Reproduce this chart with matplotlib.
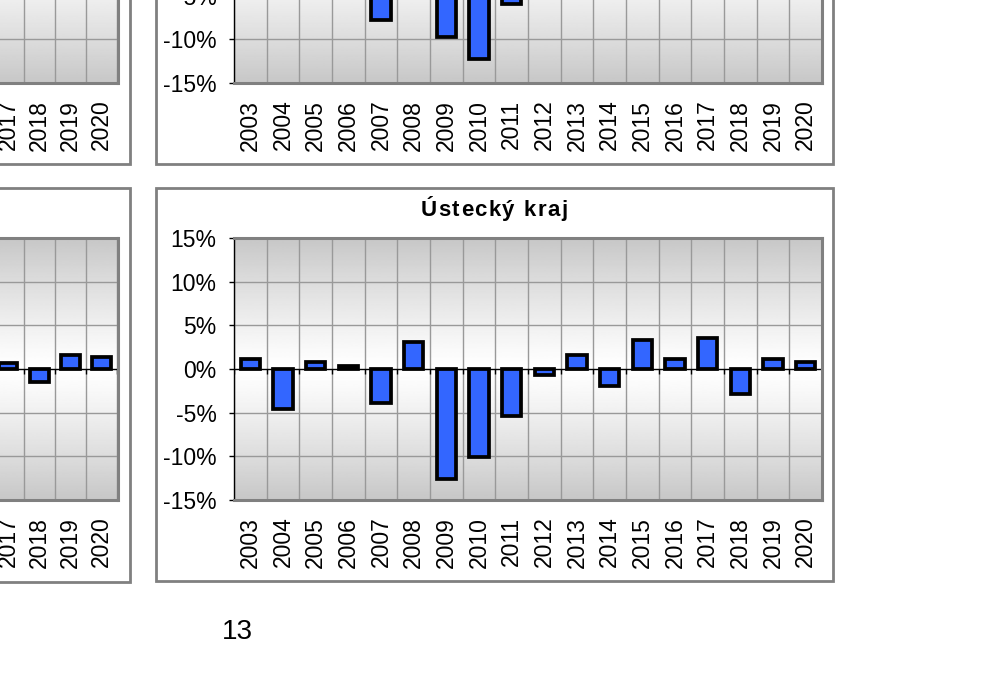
import matplotlib
matplotlib.use('Agg')
import matplotlib.pyplot as plt
import numpy as np
from matplotlib.patches import Rectangle
from matplotlib.font_manager import FontProperties

plt.rcParams['font.family'] = ['Liberation Sans', 'DejaVu Sans']

W, H = 1007, 678
nan = np.nan

years = [str(y) for y in range(2003, 2021)]

# yearly change, % (only what is visible on the cropped page)
ustecky = [1.1, -4.6, 0.8, 0.4, -3.9, 3.1, -12.6, -10.1, -5.4,
           -0.7, 1.6, -1.9, 3.3, 1.1, 3.5, -2.9, 1.1, 0.8]
top_middle = [nan, nan, nan, nan, -7.8, nan, -9.7, -12.2, -6.0,
              nan, nan, nan, nan, nan, nan, nan, nan, nan]
bottom_left = [nan] * 14 + [0.7, -1.5, 1.6, 1.4]
top_left = [nan] * 18

fig = plt.figure(figsize=(W / 100, H / 100), dpi=100)


def px_box(x0, y0, x1, y1):
    return [x0 / W, 1 - y1 / H, (x1 - x0) / W, (y1 - y0) / H]


def draw_chart(frame, plot, values):
    l, b, w, h = px_box(*frame)
    fig.add_artist(Rectangle((l, b), w, h, transform=fig.transFigure,
                             facecolor='white', edgecolor='#808080', lw=2.0, zorder=0))
    ax = fig.add_axes(px_box(*plot))
    n = len(years)
    x = np.arange(n)

    # grey-white-grey background like the Excel plot area
    grad = 1 - 0.22 * np.abs(np.linspace(1, -1, 300)) ** 1.2
    ax.imshow(grad.reshape(-1, 1), extent=(-0.5, n - 0.5, -15, 15), aspect='auto',
              cmap='gray', vmin=0, vmax=1, zorder=0)
    ax.set_xlim(-0.5, n - 0.5)
    ax.set_ylim(-15, 15)

    for bnd in np.arange(n + 1) - 0.5:
        ax.axvline(bnd, color='#999999', lw=1, zorder=1)
    for v in (-10, -5, 5, 10):
        ax.axhline(v, color='#999999', lw=1, zorder=1)
    ax.axhline(0, color='black', lw=1, zorder=2)
    ax.vlines(np.arange(n + 1) - 0.5, -0.6, 0, color='black', lw=1, zorder=2)

    vals = np.array(values, dtype=float)
    ok = ~np.isnan(vals)
    ax.bar(x[ok], vals[ok], width=0.6, color='#3366FF', edgecolor='black',
           lw=2.7, zorder=3)

    ax.set_xticks(x)
    ax.set_xticklabels(years, rotation=90, fontsize=16.5)
    ax.tick_params(axis='x', length=0, pad=12)
    yt = list(range(-15, 16, 5))
    ax.set_yticks(yt)
    ax.set_yticklabels([f'{v}%' for v in yt], fontsize=16.5)
    ax.tick_params(axis='y', direction='out', length=3.6, width=1, pad=9)

    for side in ('top', 'right', 'bottom'):
        ax.spines[side].set_color('#808080')
        ax.spines[side].set_linewidth(2.2)
    ax.spines['left'].set_color('black')
    ax.spines['left'].set_linewidth(1)
    return ax


def spaced_title(text, xc, y_base, size, spacing):
    prop = FontProperties(family='Liberation Sans', weight='bold', size=size)
    r = fig.canvas.get_renderer()
    widths = [r.get_text_width_height_descent(text[:i], prop, ismath=False)[0] if i else 0
              for i in range(len(text) + 1)]
    total = widths[-1] + spacing * (len(text) - 1)
    x0 = xc - total / 2
    for i, ch in enumerate(text):
        fig.text((x0 + widths[i] + i * spacing) / W, 1 - y_base / H, ch,
                 fontproperties=prop, ha='left', va='baseline')


draw_chart((-547, -228, 130, 164), (-446, -179, 117.5, 83), top_left)
draw_chart((156, -228, 833, 164), (234, -179, 822, 83), top_middle)
draw_chart((-547, 188, 130, 582), (-446, 238, 117.5, 500), bottom_left)
draw_chart((156, 188, 833, 581), (234, 238, 822, 500), ustecky)

spaced_title('Ústecký kraj', 494, 216, 16, 1.5)
fig.text(237 / W, 1 - 632 / H, '13', fontsize=20, ha='center', va='center')

fig.savefig('out.png', dpi=100)
